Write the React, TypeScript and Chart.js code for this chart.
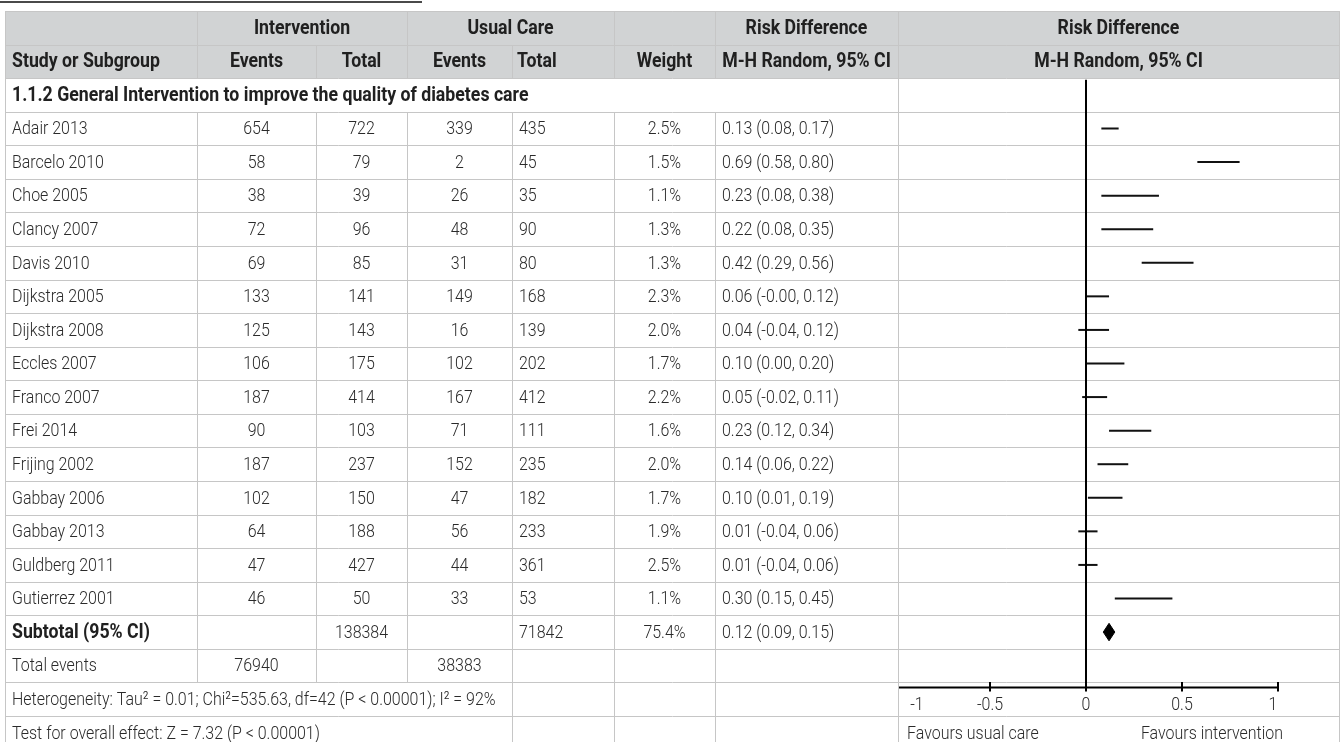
import { useEffect, useRef } from "react";
import { Chart, registerables } from "chart.js";

Chart.register(...registerables);

// ---- data -------------------------------------------------------------
const subgroupTitle = "1.1.2 General Intervention to improve the quality of diabetes care";

const studies = [
  "Adair 2013", "Barcelo 2010", "Choe 2005", "Clancy 2007", "Davis 2010",
  "Dijkstra 2005", "Dijkstra 2008", "Eccles 2007", "Franco 2007", "Frei 2014",
  "Frijing 2002", "Gabbay 2006", "Gabbay 2013", "Guldberg 2011", "Gutierrez 2001",
];
const interventionEvents = [654, 58, 38, 72, 69, 133, 125, 106, 187, 90, 187, 102, 64, 47, 46];
const interventionTotal = [722, 79, 39, 96, 85, 141, 143, 175, 414, 103, 237, 150, 188, 427, 50];
const usualCareEvents = [339, 2, 26, 48, 31, 149, 16, 102, 167, 71, 152, 47, 56, 44, 33];
const usualCareTotal = [435, 45, 35, 90, 80, 168, 139, 202, 412, 111, 235, 182, 233, 361, 53];
const weights = [2.5, 1.5, 1.1, 1.3, 1.3, 2.3, 2.0, 1.7, 2.2, 1.6, 2.0, 1.7, 1.9, 2.5, 1.1];
const riskDiff = [0.13, 0.69, 0.23, 0.22, 0.42, 0.06, 0.04, 0.10, 0.05, 0.23, 0.14, 0.10, 0.01, 0.01, 0.30];
const ciLower = [0.08, 0.58, 0.08, 0.08, 0.29, -0.00, -0.04, 0.00, -0.02, 0.12, 0.06, 0.01, -0.04, -0.04, 0.15];
const ciUpper = [0.17, 0.80, 0.38, 0.35, 0.56, 0.12, 0.12, 0.20, 0.11, 0.34, 0.22, 0.19, 0.06, 0.06, 0.45];

const subtotalInterventionTotal = 138384;
const subtotalUsualCareTotal = 71842;
const subtotalWeight = 75.4;
const subtotalRiskDiff = 0.12;
const subtotalLower = 0.09;
const subtotalUpper = 0.15;
const totalInterventionEvents = 76940;
const totalUsualCareEvents = 38383;

const heterogeneityText = "Heterogeneity: Tau² = 0.01; Chi²=535.63, df=42 (P < 0.00001); I² = 92%";
const overallEffectText = "Test for overall effect: Z = 7.32 (P < 0.00001)";

const axisTicks = [-1, -0.5, 0, 0.5, 1];
const favoursLeft = "Favours usual care";
const favoursRight = "Favours intervention";

// ---- layout -----------------------------------------------------------
const W = 1344;
const H = 742;
// column borders: study | int events | int total | uc events | uc total | weight | RD text | plot
const COLS = [5, 197, 316, 407, 512, 614, 715, 898, 1339];
const ROW_HEADER1 = 0;
const ROW_HEADER2 = 1;
const ROW_SUBGROUP = 2;
const ROW_FIRST_STUDY = 3;
const ROW_SUBTOTAL = ROW_FIRST_STUDY + studies.length; // 18
const ROW_TOTAL_EVENTS = ROW_SUBTOTAL + 1;
const ROW_HETERO = ROW_TOTAL_EVENTS + 1;
const ROW_OVERALL = ROW_HETERO + 1;
const AXIS_AT = ROW_HETERO + 0.15;
const ZERO_LINE_TOP = ROW_SUBGROUP + 0.05;
const DIAMOND_HALF = 0.26;

const HEADER_BG = "#d1d3d4";
const GRID = "#c6c6c6";
const TEXT = "#2a2a2a";
const HEAD_TEXT = "#202020";

type Face = { family: string; sx: number; boldSx: number };

function pickFace(): Face {
  const probe = document.createElement("canvas").getContext("2d")!;
  const sample = "Heterogeneity 0123456789 Subgroup";
  probe.font = "40px monospace";
  const base = probe.measureText(sample).width;
  const candidates: Face[] = [
    { family: "Liberation Sans Narrow", sx: 1, boldSx: 1.04 },
    { family: "Arial Narrow", sx: 1, boldSx: 1.04 },
    { family: "Roboto", sx: 0.84, boldSx: 0.885 },
  ];
  for (const f of candidates) {
    probe.font = `40px "${f.family}", monospace`;
    if (Math.abs(probe.measureText(sample).width - base) > 0.5) return f;
  }
  return { family: "sans-serif", sx: 0.84, boldSx: 0.885 };
}

const fmt2 = (v: number) => (Object.is(v, -0) ? "-0.00" : v.toFixed(2));
const fmtCI = (est: number, lo: number, hi: number) => `${fmt2(est)} (${fmt2(lo)}, ${fmt2(hi)})`;
const fmtPct = (v: number) => `${v.toFixed(1)}%`;

function edgesForRow(r: number): number[] {
  if (r === ROW_HEADER1) return [0, 1, 3, 5, 6, 7, 8];
  if (r === ROW_SUBGROUP) return [0, 7, 8];
  if (r >= ROW_HETERO) return [0, 4, 5, 6, 7, 8];
  return [0, 1, 2, 3, 4, 5, 6, 7, 8];
}

export default function App() {
  const canvasRef = useRef<HTMLCanvasElement | null>(null);

  useEffect(() => {
    const canvas = canvasRef.current;
    if (!canvas) return;
    const face = pickFace();

    const drawText = (
      ctx: CanvasRenderingContext2D,
      str: string,
      x: number,
      y: number,
      align: CanvasTextAlign,
      bold = false,
    ) => {
      ctx.save();
      ctx.font = bold
        ? `bold 20px "${face.family}", sans-serif`
        : `300 19px "${face.family}", sans-serif`;
      ctx.fillStyle = bold ? HEAD_TEXT : TEXT;
      ctx.textAlign = align;
      ctx.textBaseline = "middle";
      ctx.translate(x, y);
      ctx.scale(bold ? face.boldSx : face.sx, 1);
      ctx.fillText(str, 0, 0);
      ctx.restore();
    };

    const tablePlugin = {
      id: "forestTable",
      beforeDraw(chart: Chart) {
        const ctx = chart.ctx;
        const ys = chart.scales.y;
        const top = (r: number) => ys.getPixelForValue(r);
        const mid = (r: number) => ys.getPixelForValue(r + 0.5) + 1;
        const center = (a: number, b: number) => (COLS[a] + COLS[b]) / 2;
        const left = (c: number) => COLS[c] + 7;

        ctx.save();
        ctx.fillStyle = "#ffffff";
        ctx.fillRect(0, 0, W, H);

        // rule under the cut-off caption line
        ctx.fillStyle = "#4a4a4a";
        ctx.fillRect(0, 1, 422, 2);

        // header band
        ctx.fillStyle = HEADER_BG;
        ctx.fillRect(COLS[0], top(ROW_HEADER1), COLS[8] - COLS[0], top(ROW_SUBGROUP) - top(ROW_HEADER1));

        // horizontal rules
        ctx.strokeStyle = GRID;
        ctx.lineWidth = 1;
        ctx.beginPath();
        for (let r = 0; r <= ROW_OVERALL; r++) {
          const y = Math.round(top(r)) + 0.5;
          ctx.moveTo(COLS[0], y);
          ctx.lineTo(COLS[8] + 1, y);
        }
        // vertical rules
        for (let r = 0; r <= ROW_OVERALL; r++) {
          const y0 = Math.round(top(r)) + 0.5;
          const y1 = Math.round(top(r + 1)) + 0.5;
          for (const e of edgesForRow(r)) {
            const x = COLS[e] + 0.5;
            ctx.moveTo(x, y0);
            ctx.lineTo(x, y1);
          }
        }
        ctx.stroke();
        ctx.restore();

        // header row 1
        let y = mid(ROW_HEADER1);
        drawText(ctx, "Intervention", center(1, 3), y, "center", true);
        drawText(ctx, "Usual Care", center(3, 5), y, "center", true);
        drawText(ctx, "Risk Difference", center(6, 7), y, "center", true);
        drawText(ctx, "Risk Difference", center(7, 8), y, "center", true);

        // header row 2
        y = mid(ROW_HEADER2);
        drawText(ctx, "Study or Subgroup", left(0), y, "left", true);
        drawText(ctx, "Events", center(1, 2), y, "center", true);
        drawText(ctx, "Total", center(2, 3), y, "center", true);
        drawText(ctx, "Events", center(3, 4), y, "center", true);
        drawText(ctx, "Total", left(4) - 2, y, "left", true);
        drawText(ctx, "Weight", center(5, 6), y, "center", true);
        drawText(ctx, "M-H Random, 95% CI", center(6, 7), y, "center", true);
        drawText(ctx, "M-H Random, 95% CI", center(7, 8), y, "center", true);

        // subgroup title
        drawText(ctx, subgroupTitle, left(0), mid(ROW_SUBGROUP), "left", true);

        // study rows
        studies.forEach((name, i) => {
          const ry = mid(ROW_FIRST_STUDY + i);
          drawText(ctx, name, left(0), ry, "left");
          drawText(ctx, String(interventionEvents[i]), center(1, 2), ry, "center");
          drawText(ctx, String(interventionTotal[i]), center(2, 3), ry, "center");
          drawText(ctx, String(usualCareEvents[i]), center(3, 4), ry, "center");
          drawText(ctx, String(usualCareTotal[i]), left(4), ry, "left");
          drawText(ctx, fmtPct(weights[i]), center(5, 6), ry, "center");
          drawText(ctx, fmtCI(riskDiff[i], ciLower[i], ciUpper[i]), left(6), ry, "left");
        });

        // subtotal
        y = mid(ROW_SUBTOTAL);
        drawText(ctx, "Subtotal (95% CI)", left(0), y, "left", true);
        drawText(ctx, String(subtotalInterventionTotal), center(2, 3), y, "center");
        drawText(ctx, String(subtotalUsualCareTotal), left(4), y, "left");
        drawText(ctx, fmtPct(subtotalWeight), center(5, 6), y, "center");
        drawText(ctx, fmtCI(subtotalRiskDiff, subtotalLower, subtotalUpper), left(6), y, "left");

        // total events
        y = mid(ROW_TOTAL_EVENTS);
        drawText(ctx, "Total events", left(0), y, "left");
        drawText(ctx, String(totalInterventionEvents), center(1, 2), y, "center");
        drawText(ctx, String(totalUsualCareEvents), center(3, 4), y, "center");

        drawText(ctx, heterogeneityText, left(0), mid(ROW_HETERO), "left");
        drawText(ctx, overallEffectText, left(0), mid(ROW_OVERALL), "left");
      },
      afterDatasetsDraw(chart: Chart) {
        const ctx = chart.ctx;
        const xs = chart.scales.x;
        const ys = chart.scales.y;
        const ay = ys.getPixelForValue(AXIS_AT);

        ctx.save();
        ctx.beginPath();
        ctx.rect(COLS[7] + 1, 0, COLS[8] - COLS[7] - 1, H);
        ctx.clip();
        ctx.strokeStyle = "#000";
        ctx.lineWidth = 2;
        ctx.beginPath();
        ctx.moveTo(xs.getPixelForValue(axisTicks[0]), ay);
        ctx.lineTo(xs.getPixelForValue(axisTicks[axisTicks.length - 1]), ay);
        for (const v of axisTicks) {
          const px = Math.round(xs.getPixelForValue(v));
          ctx.moveTo(px, ay - 5.5);
          ctx.lineTo(px, ay + 4);
        }
        ctx.stroke();
        ctx.restore();

        const ly = ys.getPixelForValue(AXIS_AT + 0.53);
        for (const v of axisTicks) {
          const px = Math.min(Math.max(xs.getPixelForValue(v), COLS[7] + 19), xs.right - 5);
          drawText(ctx, String(v), px, ly, "center");
        }
        const fy = ys.getPixelForValue(ROW_OVERALL + 0.5) + 1;
        drawText(ctx, favoursLeft, COLS[7] + 9, fy, "left");
        drawText(ctx, favoursRight, xs.right + 5, fy, "right");
      },
    };

    const rowValue = (r: number) => r + 0.5;
    const sy = rowValue(ROW_SUBTOTAL);

    const chart = new Chart(canvas, {
      type: "line",
      data: {
        datasets: [
          {
            label: "no effect",
            data: [
              { x: 0, y: ZERO_LINE_TOP },
              { x: 0, y: AXIS_AT },
            ],
            borderColor: "#000",
            borderWidth: 2,
            pointRadius: 0,
          },
          ...studies.map((name, i) => ({
            label: name,
            data: [
              { x: ciLower[i], y: rowValue(ROW_FIRST_STUDY + i) },
              { x: ciUpper[i], y: rowValue(ROW_FIRST_STUDY + i) },
            ],
            borderColor: "#111",
            borderWidth: 2,
            pointRadius: 0,
          })),
          {
            label: "Subtotal (95% CI)",
            data: [
              { x: subtotalLower, y: sy },
              { x: subtotalRiskDiff, y: sy - DIAMOND_HALF },
              { x: subtotalUpper, y: sy },
              { x: subtotalRiskDiff, y: sy + DIAMOND_HALF },
              { x: subtotalLower, y: sy },
            ],
            borderColor: "#000",
            backgroundColor: "#000",
            borderWidth: 1,
            pointRadius: 0,
            fill: "shape",
          },
        ],
      },
      options: {
        responsive: false,
        animation: false,
        devicePixelRatio: 1,
        layout: { padding: { left: 894, right: W - 1278, top: 11, bottom: H - 716 } },
        scales: {
          x: { type: "linear", min: -1, max: 1, display: false },
          y: { type: "linear", min: 0, max: ROW_OVERALL, reverse: true, display: false },
        },
        plugins: {
          legend: { display: false },
          tooltip: { enabled: false },
        },
        events: [],
      },
      plugins: [tablePlugin],
    } as any);

    return () => chart.destroy();
  }, []);

  return (
    <div style={{ position: "absolute", left: 0, top: 0, width: W, height: H, background: "#fff" }}>
      <canvas ref={canvasRef} width={W} height={H} style={{ display: "block", width: W, height: H }} />
    </div>
  );
}
